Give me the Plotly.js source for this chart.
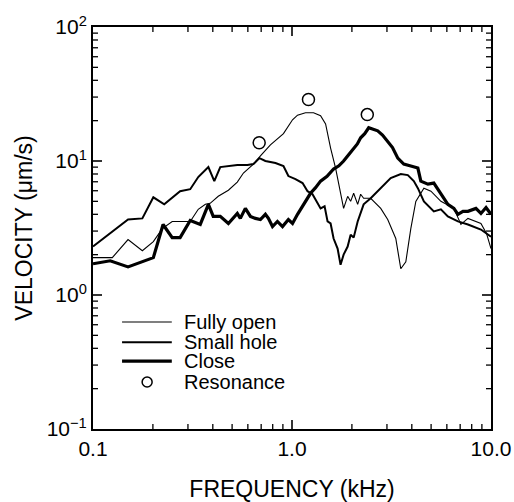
<!DOCTYPE html>
<html>
<head>
<meta charset="utf-8">
<script src="https://cdn.plot.ly/plotly-3.0.1.min.js"></script>
<style>
  html, body { margin: 0; padding: 0; background: #ffffff; }
  #chart { width: 514px; height: 502px; }
</style>
</head>
<body>
<div id="chart"></div>
<script>
// Vibration velocity spectra (kHz vs µm/s) for three opening conditions
const fullyOpenFreq = [0.100,0.125,0.150,0.177,0.201,0.223,0.250,0.308,0.338,0.367,0.388,0.426,0.479,0.531,0.570,0.640,0.694,0.779,0.906,1.006,1.066,1.169,1.283,1.392,1.475,1.563,1.656,1.734,1.817,1.904,1.971,2.041,2.138,2.213,2.291,2.486,2.792,3.027,3.323,3.521,3.732,3.954,4.19,4.60,4.99,5.60,6.51,7.06,7.66,8.90,9.49,10.0];
const fullyOpenVel  = [1.90,1.90,2.59,2.14,2.50,3.13,3.54,3.54,4.36,4.75,4.83,5.45,6.05,6.96,8.13,9.49,10.9,13.2,16.0,20.3,22.0,22.9,22.9,21.8,18.9,12.5,8.86,6.27,4.43,5.45,5.00,5.74,4.75,5.65,5.27,5.27,4.43,3.66,2.64,1.57,1.77,3.13,5.00,6.27,5.95,5.00,4.43,3.36,3.73,3.42,2.88,2.22];

const smallHoleFreq = [0.100,0.122,0.150,0.177,0.201,0.228,0.274,0.308,0.338,0.380,0.407,0.436,0.531,0.597,0.640,0.686,0.735,0.826,0.906,0.959,1.041,1.130,1.197,1.268,1.328,1.392,1.458,1.509,1.563,1.618,1.695,1.754,1.817,1.904,1.971,2.041,2.138,2.291,2.486,2.792,3.133,3.521,3.819,4.093,4.29,4.60,5.16,5.60,6.07,6.82,7.66,8.90,10.0];
const smallHoleVel  = [2.30,2.88,3.66,3.73,5.36,4.75,5.95,6.16,7.59,9.01,7.08,9.01,9.33,9.33,9.49,10.5,10.0,9.66,9.17,7.72,7.33,6.84,5.95,5.65,5.00,4.43,4.59,3.54,3.42,2.64,2.22,1.68,2.00,2.30,2.82,2.68,3.54,4.75,5.27,6.27,7.45,7.98,7.85,7.08,6.27,5.00,4.21,4.36,3.86,3.54,3.36,3.08,2.72];

const closeFreq = [0.100,0.122,0.150,0.177,0.201,0.225,0.250,0.274,0.308,0.346,0.380,0.402,0.436,0.479,0.531,0.550,0.583,0.618,0.655,0.694,0.735,0.761,0.798,0.845,0.896,0.959,1.006,1.066,1.130,1.169,1.239,1.310,1.392,1.500,1.618,1.720,1.817,1.930,2.041,2.130,2.213,2.320,2.429,2.560,2.696,2.850,3.027,3.200,3.401,3.646,3.954,4.29,4.44,4.82,5.16,5.60,6.07,6.51,6.82,7.23,7.66,8.40,8.90,9.44,10.0];
const closeVel  = [1.71,1.80,1.62,1.77,1.90,3.36,2.68,2.68,3.60,3.36,4.75,3.86,3.86,3.42,4.06,3.73,4.43,3.86,3.73,3.66,4.00,3.73,3.24,3.54,3.24,3.66,3.42,4.00,4.59,5.00,5.74,6.30,7.08,7.70,8.71,9.20,10.0,11.2,12.5,13.4,14.9,16.0,17.7,17.3,16.8,15.6,14.1,12.6,10.5,9.49,9.17,8.86,7.08,6.72,6.84,5.65,4.75,4.43,4.00,4.21,4.21,4.43,4.06,4.50,4.00];

const resonanceFreq = [0.684, 1.21, 2.39];
const resonanceVel  = [13.7, 28.8, 22.2];

const seriesNames = ['Fully open', 'Small hole', 'Close', 'Resonance'];
const lineWidths  = [1.1, 2.0, 3.2];

const xMajorVals = [0.1, 1, 10];
const xMajorText = ['0.1', '1.0', '10.0'];
const yMajorVals = [0.1, 1, 10, 100];
const yMajorText = ['10<sup>\u22121</sup>', '10<sup>0</sup>', '10<sup>1</sup>', '10<sup>2</sup>'];
const xMinorVals = [0.2,0.3,0.4,0.5,0.6,0.7,0.8,0.9,2,3,4,5,6,7,8,9];
const yMinorVals = [0.2,0.3,0.4,0.5,0.6,0.7,0.8,0.9,2,3,4,5,6,7,8,9,20,30,40,50,60,70,80,90];

const FONT = 'Liberation Sans, Arial, Helvetica, sans-serif';
const MAJOR_LEN = 9, MINOR_LEN = 5;

const traces = [
  { x: fullyOpenFreq, y: fullyOpenVel, mode: 'lines', name: seriesNames[0],
    line: { color: '#000', width: lineWidths[0] } },
  { x: smallHoleFreq, y: smallHoleVel, mode: 'lines', name: seriesNames[1],
    line: { color: '#000', width: lineWidths[1] } },
  { x: closeFreq, y: closeVel, mode: 'lines', name: seriesNames[2],
    line: { color: '#000', width: lineWidths[2] } },
  { x: resonanceFreq, y: resonanceVel, mode: 'markers', name: seriesNames[3],
    marker: { symbol: 'circle-open', size: 12, color: '#000', line: { width: 1.5, color: '#000' } } }
];

const shapes = [];
const annotations = [];

// Inward tick marks on all four sides of the frame, placed on the axis scales
function xTick(v, len, w) {
  shapes.push({ type: 'line', xref: 'x', yref: 'paper', ysizemode: 'pixel', yanchor: 0,
    x0: v, x1: v, y0: 0, y1: len, line: { color: '#000', width: w }, layer: 'above' });
  shapes.push({ type: 'line', xref: 'x', yref: 'paper', ysizemode: 'pixel', yanchor: 1,
    x0: v, x1: v, y0: 0, y1: -len, line: { color: '#000', width: w }, layer: 'above' });
}
function yTick(v, len, w) {
  shapes.push({ type: 'line', xref: 'paper', yref: 'y', xsizemode: 'pixel', xanchor: 0,
    y0: v, y1: v, x0: 0, x1: len, line: { color: '#000', width: w }, layer: 'above' });
  shapes.push({ type: 'line', xref: 'paper', yref: 'y', xsizemode: 'pixel', xanchor: 1,
    y0: v, y1: v, x0: 0, x1: -len, line: { color: '#000', width: w }, layer: 'above' });
}
xMajorVals.slice(1, -1).forEach(v => xTick(v, MAJOR_LEN, 1.6));
xMinorVals.forEach(v => xTick(v, MINOR_LEN, 1.3));
yMajorVals.slice(1, -1).forEach(v => yTick(v, MAJOR_LEN, 1.6));
yMinorVals.forEach(v => yTick(v, MINOR_LEN, 1.3));

// Hand-built key: line samples and labels stacked tightly in the lower left
const keyRows = [0.266, 0.216, 0.169, 0.117];
const keyX0 = 0.073, keyX1 = 0.198, keyText = 0.224, keyMark = 0.136;
for (let i = 0; i < 3; i++) {
  shapes.push({ type: 'line', xref: 'paper', yref: 'paper', x0: keyX0, x1: keyX1,
    y0: keyRows[i], y1: keyRows[i], line: { color: '#000', width: lineWidths[i] } });
}
shapes.push({ type: 'circle', xref: 'paper', yref: 'paper', xsizemode: 'pixel', ysizemode: 'pixel',
  xanchor: keyMark, yanchor: keyRows[3], x0: -5, x1: 5, y0: -5, y1: 5,
  line: { color: '#000', width: 1.5 } });
for (let i = 0; i < 4; i++) {
  annotations.push({ xref: 'paper', yref: 'paper', x: keyText, y: keyRows[i],
    xanchor: 'left', yanchor: 'middle', showarrow: false, text: seriesNames[i],
    font: { family: FONT, size: 20, color: '#000' } });
}

const baseAxis = {
  type: 'log', showline: true, linecolor: '#000', linewidth: 2, mirror: true,
  ticks: '', showgrid: false, zeroline: false, tickmode: 'array',
  tickfont: { family: FONT, size: 21, color: '#000' }
};

const layout = {
  width: 514, height: 502,
  margin: { l: 93, r: 23, t: 27, b: 73 },
  paper_bgcolor: '#fff', plot_bgcolor: '#fff',
  showlegend: false,
  font: { family: FONT, color: '#000' },
  xaxis: Object.assign({}, baseAxis, {
    range: [-1, 1], tickvals: xMajorVals, ticktext: xMajorText,
    title: { text: 'FREQUENCY (kHz)', font: { family: FONT, size: 23, color: '#000' }, standoff: 22 }
  }),
  yaxis: Object.assign({}, baseAxis, {
    range: [-1, 2], tickvals: yMajorVals, ticktext: yMajorText,
    title: { text: 'VELOCITY (\u03bcm/s)', font: { family: FONT, size: 23, color: '#000' }, standoff: 8 }
  }),
  shapes: shapes,
  annotations: annotations
};

Plotly.newPlot('chart', traces, layout, { displayModeBar: false, staticPlot: true });
</script>
</body>
</html>
